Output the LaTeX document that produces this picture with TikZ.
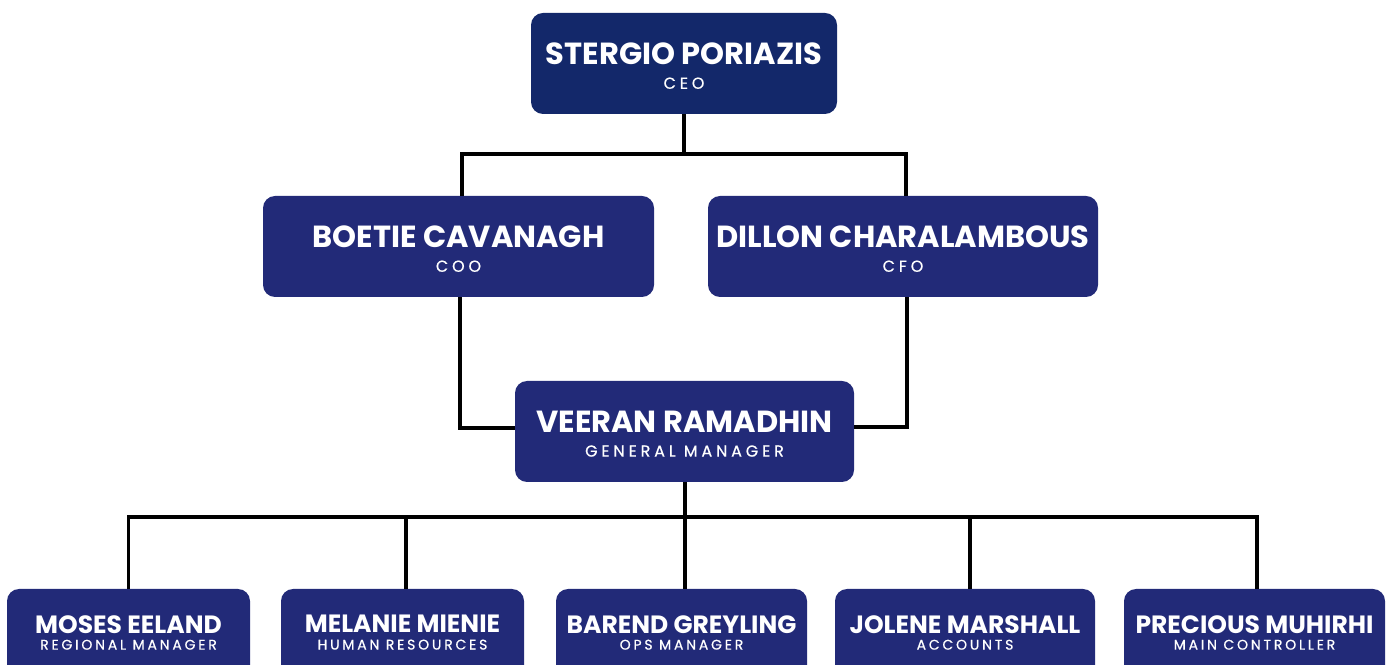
\documentclass[tikz,border=0pt]{standalone}
\usepackage{fontspec}
\setmainfont{Poppins}
\newfontfamily\titlefam{Poppins}[LetterSpace=24,FakeBold=0.6]
\newfontfamily\subtitlefam{Poppins}[LetterSpace=20,FakeBold=0.6]
\usepackage{tikz}
\usetikzlibrary{calc}
\definecolor{ceoblue}{HTML}{13286A}
\definecolor{boxblue}{HTML}{222A78}
\newcommand{\bigname}[2]{\raisebox{-2.5pt}[\height][\depth]{\fontsize{30.5}{24}\selectfont\bfseries #1}\\\raisebox{-2.5pt}[\height][\depth]{\fontsize{16}{24}\selectfont\titlefam #2}}
\newcommand{\smallname}[2]{{\fontsize{25}{17.6}\selectfont\bfseries #1}\\\raisebox{1pt}[\height][\depth]{\fontsize{14}{17.6}\selectfont\subtitlefam #2}}

\begin{document}
\begin{tikzpicture}[x=1pt,y=1pt,every node/.style={fill=boxblue,text=white,rounded corners=12pt,inner sep=0pt,align=center,minimum height=101pt}]
	\useasboundingbox (0,0) rectangle (1392,664);
	
	\node[fill=ceoblue,minimum width=306pt,font=\fontsize{16}{24}\selectfont] (ceo) at (684,600.5){\bigname{STERGIO PORIAZIS}{CEO}};
	\node[minimum width=391pt,font=\fontsize{16}{24}\selectfont] (coo) at (458.5,417.5){\bigname{BOETIE CAVANAGH}{COO}};
	\node[minimum width=390pt,font=\fontsize{16}{24}\selectfont] (cfo) at (903,417.5){\bigname{DILLON CHARALAMBOUS}{CFO}};
	\node[minimum width=339pt,font=\fontsize{16}{24}\selectfont] (gm) at (684.5,232.5){\bigname{VEERAN RAMADHIN}{GENERAL MANAGER}};
	\node[minimum width=243pt,minimum height=88pt,font=\fontsize{14}{17.6}\selectfont] (moses) at (128.5,31){\smallname{MOSES EELAND}{REGIONAL MANAGER}};
	\node[minimum width=243pt,minimum height=88pt,font=\fontsize{14}{17.6}\selectfont] (melanie) at (402.5,31){\smallname{MELANIE MIENIE}{HUMAN RESOURCES}};
	\node[minimum width=251pt,minimum height=88pt,font=\fontsize{14}{17.6}\selectfont] (barend) at (681.5,31){\smallname{BAREND GREYLING}{OPS MANAGER}};
	\node[minimum width=260pt,minimum height=88pt,font=\fontsize{14}{17.6}\selectfont] (jolene) at (965,31){\smallname{JOLENE MARSHALL}{ACCOUNTS}};
	\node[minimum width=261pt,minimum height=88pt,font=\fontsize{14}{17.6}\selectfont] (precious) at (1254.5,31){\smallname{PRECIOUS MUHIRHI}{MAIN CONTROLLER}};
	\coordinate (top) at (684,510);
	\coordinate (mid) at (685,147);
	\begin{scope}[line width=3.2pt]
	%edges
	\draw (ceo.south) -- (top);
	\draw ([xshift=3.5pt]coo.north) |- (top) -| ([xshift=3pt]cfo.north);
	\draw ([xshift=1.5pt]coo.south) |- ([yshift=3.5pt]gm.west);
	\draw ([xshift=4pt]cfo.south) |- ([yshift=4.5pt]gm.east);
	\draw (gm.south -| mid) -- (mid);
	\draw (moses.north) |- (mid) -| ([xshift=2.5pt]precious.north);
	\draw ([xshift=3.5pt]melanie.north) -- ([xshift=3.5pt]melanie.north |- mid);
	\draw ([xshift=3.5pt]barend.north) -- ([xshift=3.5pt]barend.north |- mid);
	\draw ([xshift=5pt]jolene.north) -- ([xshift=5pt]jolene.north |- mid);
	\end{scope}
\end{tikzpicture}
\end{document}
